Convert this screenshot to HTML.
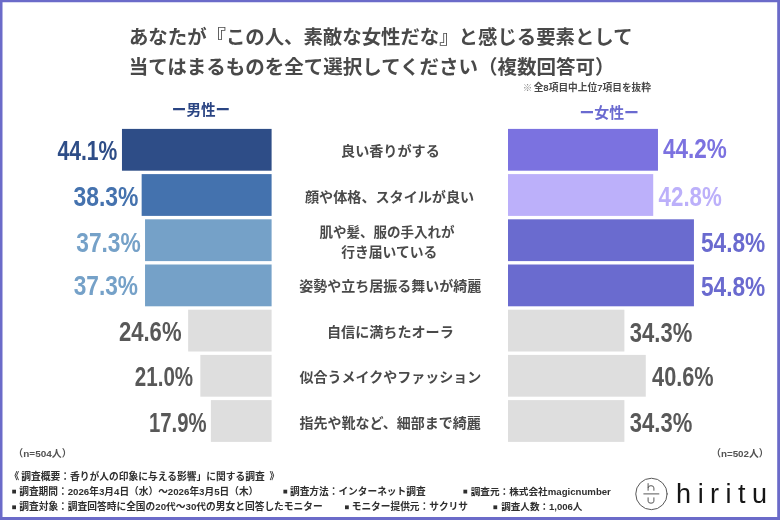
<!DOCTYPE html>
<html lang="ja"><head><meta charset="utf-8"><title>あなたが『この人、素敵な女性だな』と感じる要素として当てはまるものを全て選択してください（複数回答可）</title>
<style>
html,body{margin:0;padding:0;background:#fff;font-family:"Liberation Sans",sans-serif;}
#chart{position:relative;width:780px;height:520px;overflow:hidden;background:#fff;}
#chart svg{position:absolute;left:0;top:0;display:block;}
#labels text{font-family:"Liberation Sans","Noto Sans CJK JP",sans-serif;}
</style></head><body>
<div id="chart">
<svg width="780" height="520" viewBox="0 0 780 520" role="img">
<title>あなたが『この人、素敵な女性だな』と感じる要素として当てはまるものを全て選択してください（複数回答可）</title>
<desc>※全8項目中上位7項目を抜粋 / ー男性ー (n=504人) / ー女性ー (n=502人) / 良い香りがする: 男性44.1% 女性44.2% / 顔や体格、スタイルが良い: 男性38.3% 女性42.8% / 肌や髪、服の手入れが行き届いている: 男性37.3% 女性54.8% / 姿勢や立ち居振る舞いが綺麗: 男性37.3% 女性54.8% / 自信に満ちたオーラ: 男性24.6% 女性34.3% / 似合うメイクやファッション: 男性21.0% 女性40.6% / 指先や靴など、細部まで綺麗: 男性17.9% 女性34.3% / 《 調査概要：香りが人の印象に与える影響」に関する調査 》 / 調査期間：2026年3月4日（水）～2026年3月5日（木） / 調査方法：インターネット調査 / 調査元：株式会社magicnumber / 調査対象：調査回答時に全国の20代～30代の男女と回答したモニター / モニター提供元：サクリサ / 調査人数：1,006人 / hiritu</desc>
<defs><filter id="soft" x="0" y="0" width="780" height="520" filterUnits="userSpaceOnUse"><feGaussianBlur stdDeviation="0.35"/></filter></defs>
<g id="shapes">
<rect x="0" y="0" width="780" height="520" fill="#ffffff"/>
<path fill="#6b6bc9" fill-rule="evenodd" d="M0 0H780V520H0zM2.5 2.3V517H777.2V2.3z"/>
<rect x="121.97" y="128.9" width="149.63" height="41.8" fill="#2e4d87"/>
<rect x="508" y="128.9" width="149.97" height="41.8" fill="#7b72e0"/>
<rect x="141.65" y="174.1" width="129.95" height="41.8" fill="#4472ae"/>
<rect x="508" y="174.1" width="145.22" height="41.8" fill="#bcb0fa"/>
<rect x="145.04" y="219.3" width="126.56" height="41.8" fill="#75a1c8"/>
<rect x="508" y="219.3" width="185.94" height="41.8" fill="#6a6bcf"/>
<rect x="145.04" y="264.5" width="126.56" height="41.8" fill="#75a1c8"/>
<rect x="508" y="264.5" width="185.94" height="41.8" fill="#6a6bcf"/>
<rect x="188.13" y="309.7" width="83.47" height="41.8" fill="#dedede"/>
<rect x="508" y="309.7" width="116.38" height="41.8" fill="#dedede"/>
<rect x="200.35" y="354.9" width="71.25" height="41.8" fill="#dedede"/>
<rect x="508" y="354.9" width="137.76" height="41.8" fill="#dedede"/>
<rect x="210.87" y="400.1" width="60.73" height="41.8" fill="#dedede"/>
<rect x="508" y="400.1" width="116.38" height="41.8" fill="#dedede"/>
<rect x="12.2" y="489.7" width="3.8" height="3.8" fill="#2e2e2e"/>
<rect x="283.4" y="489.7" width="3.8" height="3.8" fill="#2e2e2e"/>
<rect x="463.4" y="489.7" width="3.8" height="3.8" fill="#2e2e2e"/>
<rect x="12.2" y="505.4" width="3.8" height="3.8" fill="#2e2e2e"/>
<rect x="345" y="505.4" width="3.8" height="3.8" fill="#2e2e2e"/>
<rect x="493.4" y="505.4" width="3.8" height="3.8" fill="#2e2e2e"/>
<g fill="none" stroke="#585858" stroke-width="1" stroke-linecap="round" stroke-linejoin="round"><circle cx="651.45" cy="493.95" r="15.7"/><path d="M643.8 493.9H658.9"/><path d="M648.1 483.6V490.3M648.1 487.6Q648.1 485.7 651 485.7Q653.9 485.7 653.9 487.9V490.3"/><path d="M648.1 497.8V501.2Q648.1 503.2 651 503.2Q653.9 503.2 653.9 501.2V497.8"/></g>
</g>
<g id="labels" filter="url(#soft)">
<text x="128.98" y="44.3" font-size="19.4" font-weight="700" fill="#4a4a4a">あなたが『この人、素敵な女性だな』と感じる要素として</text>
<text x="128.68" y="74" font-size="19.5" font-weight="700" fill="#4a4a4a">当てはまるものを全て選択してください（複数回答可）</text>
<text x="522.81" y="90.7" font-size="9.6" fill="#888888">※</text>
<text x="533.66" y="90.7" font-size="9.7" font-weight="700" fill="#4a4a4a">全8項目中上位7項目を抜粋</text>
<text x="171.8" y="114.7" font-size="14.6" font-weight="700" fill="#2b4483">ー男性ー</text>
<text x="579.38" y="118" font-size="14.9" font-weight="700" fill="#6b6bd0">ー女性ー</text>
<text x="341.08" y="155.5" font-size="14.1" font-weight="700" fill="#4a4a4a">良い香りがする</text>
<text x="305.04" y="202.1" font-size="14.1" font-weight="700" fill="#4a4a4a">顔や体格、スタイルが良い</text>
<text x="319.53" y="237.05" font-size="13.5" font-weight="700" fill="#4a4a4a">肌や髪、服の手入れが</text>
<text x="341.14" y="256.65" font-size="13.8" font-weight="700" fill="#4a4a4a">行き届いている</text>
<text x="299.32" y="291.4" font-size="14" font-weight="700" fill="#4a4a4a">姿勢や立ち居振る舞いが綺麗</text>
<text x="326.97" y="336.75" font-size="14.1" font-weight="700" fill="#4a4a4a">自信に満ちたオーラ</text>
<text x="299.62" y="381.75" font-size="14" font-weight="700" fill="#4a4a4a">似合うメイクやファッション</text>
<text x="299.44" y="428.25" font-size="14" font-weight="700" fill="#4a4a4a">指先や靴など、細部まで綺麗</text>
<text x="57.45" y="160" font-size="28" font-weight="700" fill="#2e4d87" textLength="59.8" lengthAdjust="spacingAndGlyphs">44.1%</text>
<text x="73.44" y="206" font-size="28" font-weight="700" fill="#4472ae" textLength="65" lengthAdjust="spacingAndGlyphs">38.3%</text>
<text x="76.24" y="252" font-size="28" font-weight="700" fill="#75a1c8" textLength="64.5" lengthAdjust="spacingAndGlyphs">37.3%</text>
<text x="73.64" y="295" font-size="28" font-weight="700" fill="#75a1c8" textLength="64.4" lengthAdjust="spacingAndGlyphs">37.3%</text>
<text x="118.94" y="340.9" font-size="28" font-weight="700" fill="#595959" textLength="62.6" lengthAdjust="spacingAndGlyphs">24.6%</text>
<text x="134.84" y="385.6" font-size="28" font-weight="700" fill="#595959" textLength="58.3" lengthAdjust="spacingAndGlyphs">21.0%</text>
<text x="148.92" y="432.2" font-size="28" font-weight="700" fill="#595959" textLength="57.6" lengthAdjust="spacingAndGlyphs">17.9%</text>
<text x="662.95" y="158.3" font-size="28" font-weight="700" fill="#7b72e0" textLength="63.9" lengthAdjust="spacingAndGlyphs">44.2%</text>
<text x="658.61" y="206.1" font-size="28" font-weight="700" fill="#bcb0fa" textLength="63.2" lengthAdjust="spacingAndGlyphs">42.8%</text>
<text x="700.88" y="252.2" font-size="28" font-weight="700" fill="#6a6bcf" textLength="64.4" lengthAdjust="spacingAndGlyphs">54.8%</text>
<text x="700.88" y="296.1" font-size="28" font-weight="700" fill="#6a6bcf" textLength="64.4" lengthAdjust="spacingAndGlyphs">54.8%</text>
<text x="629.85" y="341.8" font-size="28" font-weight="700" fill="#595959" textLength="62.5" lengthAdjust="spacingAndGlyphs">34.3%</text>
<text x="652.1" y="385.9" font-size="28" font-weight="700" fill="#595959" textLength="61.6" lengthAdjust="spacingAndGlyphs">40.6%</text>
<text x="629.85" y="432.2" font-size="28" font-weight="700" fill="#595959" textLength="62.5" lengthAdjust="spacingAndGlyphs">34.3%</text>
<text x="13.36" y="457.3" font-size="9.95" font-weight="700" fill="#525252">（n=504人）</text>
<text x="711.17" y="457.1" font-size="9.8" font-weight="700" fill="#525252">（n=502人）</text>
<text x="9.45" y="479.8" font-size="9.7" font-weight="700" fill="#2e2e2e">《</text>
<text x="21.26" y="479.8" font-size="9.75" font-weight="700" fill="#2e2e2e">調査概要：香りが人の印象に与える影響」に関する調査</text>
<text x="269.5" y="479.8" font-size="9.7" font-weight="700" fill="#2e2e2e">》</text>
<text x="19.26" y="495" font-size="9.7" font-weight="700" fill="#2e2e2e">調査期間：2026年3月4日（水）～2026年3月5日（木）</text>
<text x="289.96" y="495" font-size="9.7" font-weight="700" fill="#2e2e2e">調査方法：インターネット調査</text>
<text x="470.76" y="495" font-size="9.65" font-weight="700" fill="#2e2e2e">調査元：株式会社magicnumber</text>
<text x="19.26" y="510.4" font-size="9.73" font-weight="700" fill="#2e2e2e">調査対象：調査回答時に全国の20代～30代の男女と回答したモニター</text>
<text x="351.72" y="510.4" font-size="9.7" font-weight="700" fill="#2e2e2e">モニター提供元：サクリサ</text>
<text x="501.26" y="510.4" font-size="9.55" font-weight="700" fill="#2e2e2e">調査人数：1,006人</text>
<text x="676.11" y="503.4" font-size="27" fill="#161616" textLength="91" lengthAdjust="spacing">hiritu</text>
</g>
</svg>
</div>
</body></html>
